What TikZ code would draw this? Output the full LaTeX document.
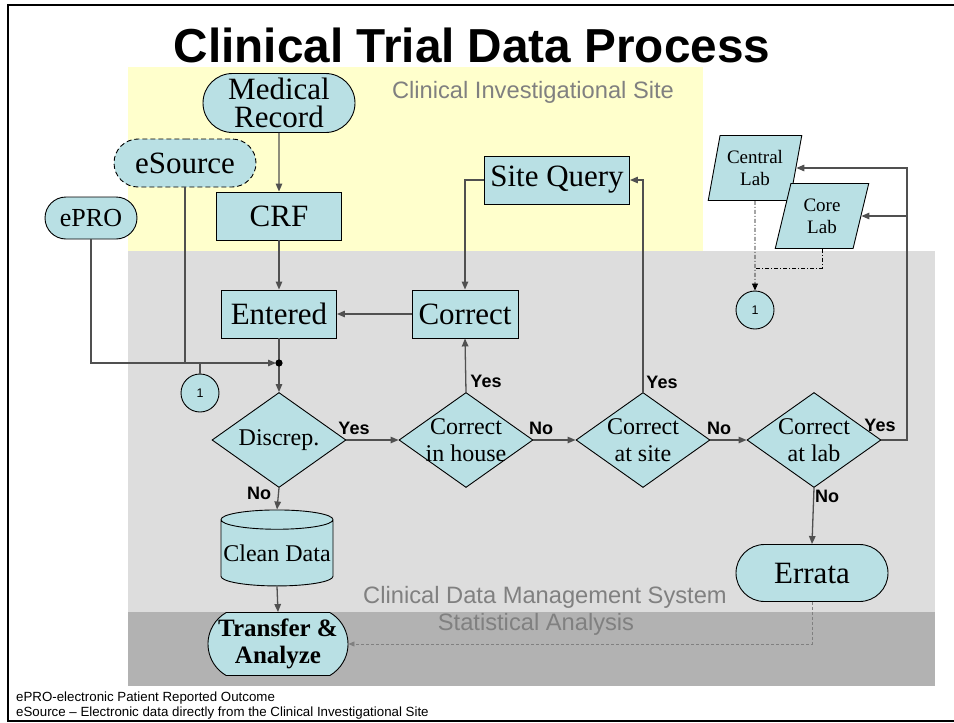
\documentclass[tikz,border=0pt]{standalone}
\usepackage{fontspec}
\setmainfont{Liberation Serif}
\newfontfamily\arialfont[Ligatures=TeX]{Liberation Sans}
\usepackage{xcolor}
\usetikzlibrary{positioning,arrows.meta,shapes.geometric,shapes.misc}
\definecolor{flowCyan}{HTML}{B9E0E4}
\definecolor{siteYellow}{HTML}{FFFFCC}
\definecolor{cdmsGray}{HTML}{DDDDDD}
\definecolor{statGray}{HTML}{B2B2B2}
\definecolor{lineGray}{HTML}{505050}
\definecolor{zoneText}{HTML}{808080}

\begin{document}
\begin{tikzpicture}[
  x=1pt, y=-1pt,
  box/.style={draw=black, fill=flowCyan, line width=0.9pt, inner sep=0pt,
    font=\fontsize{31}{28}\selectfont},
  proc/.style={box, rectangle, minimum width=#1, minimum height=48pt},
  term/.style={box, rounded rectangle, minimum width=#1, align=center},
  decision/.style={box, diamond, minimum width=134pt, minimum height=95pt},
  dectext/.style={font=\fontsize{24}{27}\selectfont, align=center, inner sep=0pt},
  labbox/.style={box, trapezium, trapezium left angle=75, trapezium right angle=105,
    trapezium stretches=true, minimum width=94pt, minimum height=65pt,
    font=\fontsize{19}{22}\selectfont, align=center},
  conncircle/.style={circle, draw=black, fill=flowCyan, line width=0.9pt,
    minimum size=38pt, inner sep=0pt, font=\arialfont\fontsize{12.5}{12.5}\selectfont},
  yn/.style={font=\arialfont\bfseries\fontsize{18}{18}\selectfont, inner sep=0pt},
  zone/.style={font=\arialfont\fontsize{23.7}{26}\selectfont, text=zoneText,
    inner sep=0pt, anchor=base},
  note/.style={font=\arialfont\fontsize{13.3}{14}\selectfont, inner sep=0pt,
    anchor=base west},
  wire/.style={line width=1.3pt, lineGray},
  arr/.style={wire, -{Triangle[length=8pt,width=6.5pt]}},
]
\useasboundingbox (0,0) rectangle (954,723);

% Frame
\draw[line width=2.4pt] (954,5) -- (8,5) -- (8,721) -- (954,721);

% Zones: site, data management, statistics
\fill[siteYellow] (128,67) rectangle (703,251);
\fill[cdmsGray] (128,251) rectangle (935,612);
\fill[statGray] (128,612) rectangle (935,686);

\node[font=\arialfont\bfseries\fontsize{47.7}{50}\selectfont, inner sep=0pt,
  anchor=base] (title) at (472,62) {Clinical Trial Data Process};
\node[zone] (sitezone) at (533,98) {Clinical Investigational Site};
\node[zone] (cdmszone) at (545,603) {Clinical Data Management System};
\node[zone] (statzone) at (536,630) {Statistical Analysis};

% Sources
\node[term=152pt, minimum height=59pt] (medrec) at (279,103) {Medical\\Record};
\node[term=142pt, minimum height=48pt, dash pattern=on 5pt off 3pt] (esource)
  at (185,163) {eSource};
\node[term=92pt, minimum height=42pt, font=\fontsize{26}{28}\selectfont] (epro)
  at (91,218) {ePRO};
\node[proc=125pt] (crf) at (279,216) {CRF};

% Query loop
\node[proc=145pt] (sitequery) at (557,180) {Site Query};
\node[proc=106pt] (correct) at (465,314) {Correct};
\node[proc=115pt] (entered) at (279,314) {Entered};

% Labs
\node[labbox] (central) at (755,168) {Central\\Lab};
\node[labbox] (core) at (822,216) {Core\\Lab};

% Off-page connectors
\node[conncircle] (refin) at (200,393) {1};
\node[conncircle] (refout) at (755,310) {1};
\coordinate (merge) at (279,363);
\coordinate (labmerge) at (755,268);
\coordinate (labrise) at (907,440);

% Decisions
\node[decision, label={[dectext]center:Discrep.}] (discrep) at (279,440) {};
\node[decision, label={[dectext]center:Correct\\in house}] (inhouse) at (466,440) {};
\node[decision, label={[dectext]center:Correct\\at site}] (atsite) at (643,440) {};
\node[decision, label={[dectext]center:Correct\\at lab}] (atlab) at (814,440) {};

% Outputs
\node[box, cylinder, shape border rotate=90, aspect=0.18, minimum width=112pt,
  minimum height=76pt, font=\fontsize{24}{26}\selectfont] (clean) at (277,553)
  {\raisebox{-6pt}{Clean Data}};
\node[term=140pt, minimum height=63pt, rounded rectangle arc length=120,
  font=\bfseries\fontsize{25}{27}\selectfont] (transfer) at (278,644)
  {Transfer \&\\Analyze};
\node[term=152pt, minimum height=57pt] (errata) at (812,573) {Errata};

% Arrows
\draw[arr] (medrec) -- (crf);
\draw[arr] (crf) -- (entered);
\draw[wire] (entered) -- (merge);
\draw[arr] (merge) -- (discrep.north);
\draw[arr, shorten >=3pt] (epro.south) |- (merge);
\draw[wire] (esource.south) -- (esource.south |- merge);
\draw[wire] (refin.north) -- (refin.north |- merge);
\fill (merge) circle (3.6pt);

\draw[arr] (correct) -- (entered);
\draw[arr] (sitequery.west) -| (correct.north);

\draw[arr] (discrep.east) -- (inhouse.west);
\draw[arr] (inhouse.north) -- (correct.south);
\draw[arr] (inhouse.east) -- (atsite.west);
\draw[arr] (atsite.north) |- (sitequery.east);
\draw[arr] (atsite.east) -- (atlab.west);
\draw[arr] (atlab.east) -- (labrise) |- (central.east);
\draw[arr] (labrise |- core.east) -- (core.east);
\draw[arr] (atlab.south) -- (errata.north);

\draw[arr] (discrep.south) -- (clean.north);
\draw[arr] (clean.south) -- (transfer.north);

% Lab results come back through connector 1
\draw[line width=0.8pt, dash pattern=on 4pt off 2pt on 1pt off 2pt]
  (core.south) |- (labmerge);
\draw[line width=0.8pt, dash pattern=on 4pt off 2pt on 1pt off 2pt,
  -{Triangle[length=7pt,width=6pt]}] (central.south) -- (refout.north);

% Errata feed the analysis
\draw[line width=0.9pt, gray, dash pattern=on 3pt off 2pt,
  -{Triangle[length=6pt,width=5pt]}] (errata.south) |- (transfer.east);

% Yes / No
\node[yn] (y1) at (354,428) {Yes};
\node[yn] (n1) at (259,493) {No};
\node[yn] (y2) at (486,381) {Yes};
\node[yn] (n2) at (541,428) {No};
\node[yn] (y3) at (662,382) {Yes};
\node[yn] (n3) at (719,428) {No};
\node[yn] (y4) at (880,425) {Yes};
\node[yn] (n4) at (827,496) {No};

% Footnotes
\node[note] (fn1) at (16,701) {ePRO-electronic Patient Reported Outcome};
\node[note] (fn2) at (16,716) {eSource – Electronic data directly from the Clinical Investigational Site};
\end{tikzpicture}
\end{document}
